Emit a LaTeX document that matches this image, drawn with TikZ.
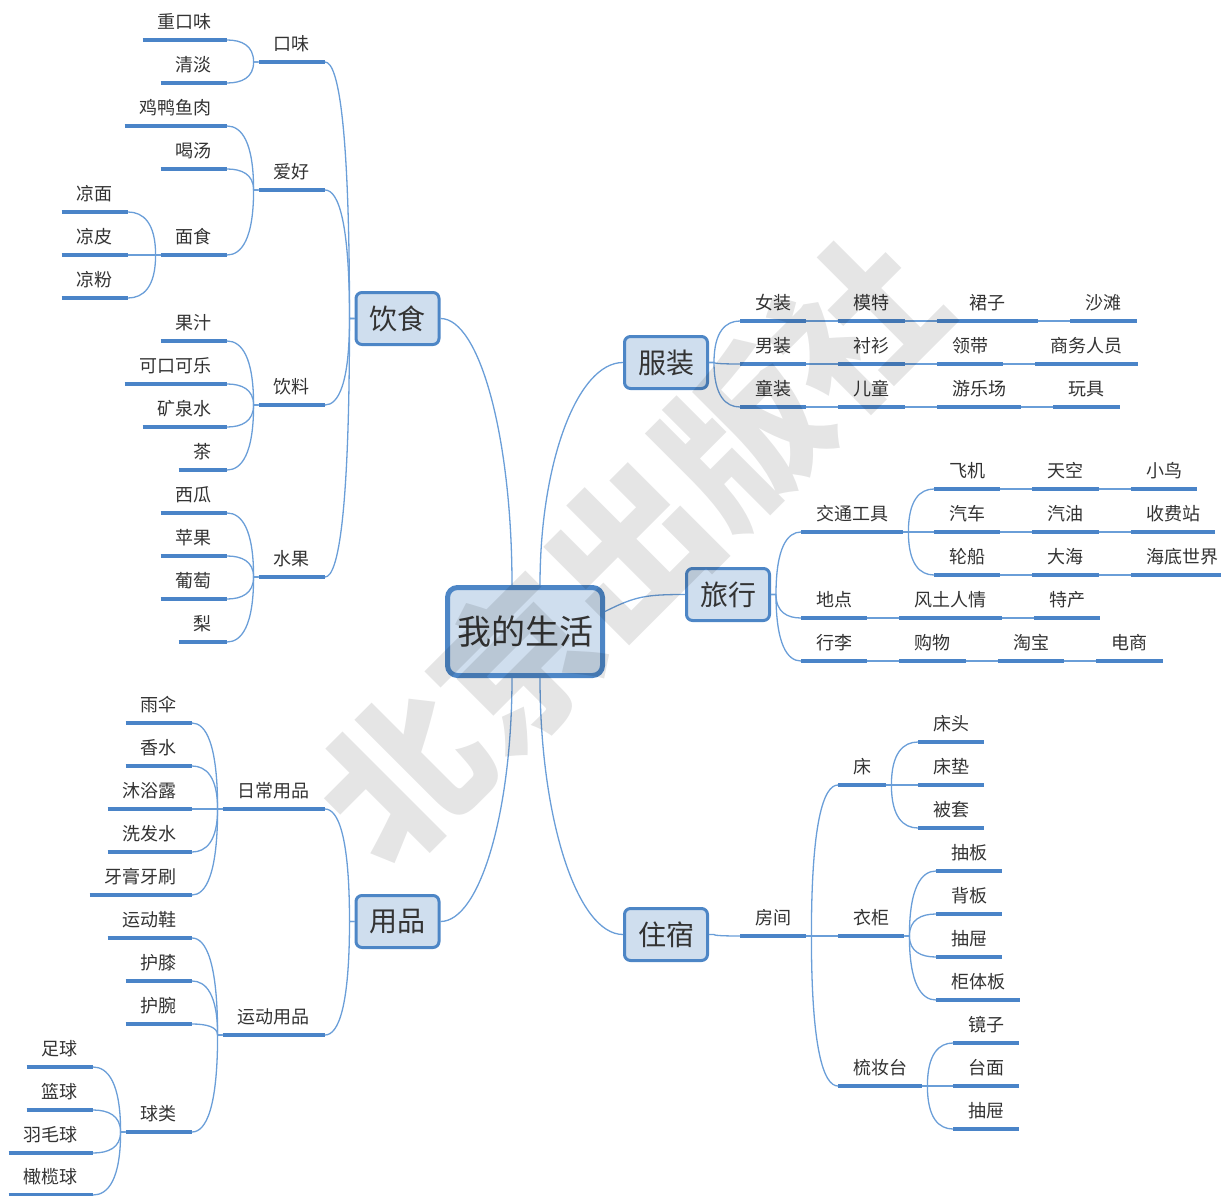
\documentclass[tikz,border=0pt]{standalone}
\usepackage{fontspec}
\setmainfont{Noto Sans CJK SC}
\usetikzlibrary{calc,positioning}

\definecolor{boxfill}{HTML}{CFDEEE}
\definecolor{boxblue}{HTML}{4D86C6}
\definecolor{ulblue}{HTML}{4A84C8}
\definecolor{linkblue}{HTML}{6A9ED8}
\definecolor{txt}{HTML}{333333}

\tikzset{
  root/.style={draw=boxblue, line width=5pt, fill=boxfill, rounded corners=10pt,
    minimum width=155pt, minimum height=88pt, font=\fontsize{34}{40}\selectfont, text=txt},
  topic/.style={draw=boxblue, line width=3pt, fill=boxfill, rounded corners=6pt,
    minimum width=83pt, minimum height=52pt, font=\fontsize{28}{32}\selectfont, text=txt},
  sub/.style={inner xsep=15pt, inner ysep=0pt, text height=14pt, text depth=11.5pt,
    font=\fontsize{18}{20}\selectfont, text=txt},
  subl/.style={sub, anchor=south east},
  subr/.style={sub, anchor=south west},
  ul/.style={ulblue, line width=4pt},
  link/.style={linkblue, line width=1.3pt},
  branch/.style={to path={(\tikztostart) .. controls ($(\tikztostart)!#1!(\tikztostart|-\tikztotarget)$)
    and ($(\tikztotarget)!0.55!(\tikztostart|-\tikztotarget)$) .. (\tikztotarget)}},
  branch/.default=0.75
}

\begin{document}
\begin{tikzpicture}[x=1pt, y=-1pt]
\useasboundingbox (0,0) rectangle (1221,1196);

% centre and main topics
\node[root] (root) at (525,631.5) {我的生活};
\node[topic] (yinshi) at (397.5,318.5) {饮食};
\node[topic] (yongpin) at (397.5,921.5) {用品};
\node[topic] (fuzhuang) at (666,362.5) {服装};
\node[topic] (lvxing) at (728,594.5) {旅行};
\node[topic] (zhusu) at (666,934.5) {住宿};

\coordinate (rtl) at ([xshift=-13pt]root.north);
\coordinate (rtr) at ([xshift=15pt]root.north);
\coordinate (rbl) at ([xshift=-13pt]root.south);
\coordinate (rbr) at ([xshift=15pt]root.south);
\coordinate (rr) at ([yshift=20pt]root.east);
\draw[link] (rtl) to[branch=0.55] (yinshi.east);
\draw[link] (rbl) to[branch=0.55] (yongpin.east);
\draw[link] (rtr) to[branch=0.55] (fuzhuang.west);
\draw[link] (rbr) to[branch=0.55] (zhusu.west);
\draw[link] (rr) .. controls +(30,-15) and +(-40,0) .. (lvxing.west);

% left side, second level
\foreach \p/\n/\t/\y in {yinshi/kouwei/口味/62, yinshi/aihao/爱好/190, yinshi/yinliao/饮料/405,
    yinshi/shuiguo/水果/577, yongpin/richang/日常用品/809, yongpin/yundong/运动用品/1035}
  {\node[subl] (\n) at (325,\y) {\t};
   \draw[ul] (\n.south west) -- (\n.south east);
   \draw[link] (\p.west) -- ++(-5,0) to[branch] (\n.south east);}

% left side, deeper levels
\foreach \p/\n/\t/\x/\y in {kouwei/zhongkouwei/重口味/227/40, kouwei/qingdan/清淡/227/83,
    aihao/jiya/鸡鸭鱼肉/227/126, aihao/hetang/喝汤/227/169, aihao/mianshi/面食/227/255,
    mianshi/liangmian/凉面/128/212, mianshi/liangpi/凉皮/128/255, mianshi/liangfen/凉粉/128/298,
    yinliao/guozhi/果汁/227/341, yinliao/kele/可口可乐/227/384, yinliao/kuangquan/矿泉水/227/427,
    yinliao/cha/茶/227/470, shuiguo/xigua/西瓜/227/513, shuiguo/pingguo/苹果/227/556,
    shuiguo/putao/葡萄/227/599, shuiguo/li/梨/227/642,
    richang/yusan/雨伞/192/723, richang/xiangshui/香水/192/766, richang/muyu/沐浴露/192/809,
    richang/xifa/洗发水/192/852, richang/yagao/牙膏牙刷/192/895,
    yundong/xie/运动鞋/192/938, yundong/huxi/护膝/192/981, yundong/huwan/护腕/192/1024,
    yundong/qiulei/球类/192/1132, qiulei/zuqiu/足球/93/1067, qiulei/lanqiu/篮球/93/1110,
    qiulei/yumao/羽毛球/93/1153, qiulei/ganlan/橄榄球/93/1195}
  {\node[subl] (\n) at (\x,\y) {\t};
   \draw[ul] (\n.south west) -- (\n.south east);
   \draw[link] (\p.south west) -- ++(-5,0) to[branch] (\n.south east);}

% right side, second level
\foreach \p/\n/\t/\x/\y in {fuzhuang/nvzhuang/女装/740/321, fuzhuang/nanzhuang/男装/740/364,
    fuzhuang/tongzhuang/童装/740/407, lvxing/jiaotong/交通工具/801/532,
    lvxing/didian/地点/801/618, lvxing/xingli/行李/801/661, zhusu/fangjian/房间/740/936}
  {\node[subr] (\n) at (\x,\y) {\t};
   \draw[ul] (\n.south west) -- (\n.south east);
   \draw[link] (\p.east) -- ++(5,0) to[branch] (\n.south west);}

% right side, deeper levels
\foreach \p/\n/\t/\x/\y in {jiaotong/feiji/飞机/934/489, jiaotong/qiche/汽车/934/532,
    jiaotong/lunchuan/轮船/934/575, fangjian/chuang/床/838/785, fangjian/yigui/衣柜/838/936,
    fangjian/shuzhuang/梳妆台/838/1086, chuang/chuangtou/床头/918/742,
    chuang/chuangdian/床垫/918/785, chuang/beitao/被套/918/828, yigui/chouban/抽板/936/871,
    yigui/beiban/背板/936/914, yigui/chouti/抽屉/936/957, yigui/guiti/柜体板/936/1000,
    shuzhuang/jingzi/镜子/953/1043, shuzhuang/taimian/台面/953/1086,
    shuzhuang/choutib/抽屉/953/1129}
  {\node[subr] (\n) at (\x,\y) {\t};
   \draw[ul] (\n.south west) -- (\n.south east);
   \draw[link] (\p.south east) -- ++(5,0) to[branch] (\n.south west);}

% chains
\node[subr, right=32pt of nvzhuang] (mote) {模特};
\node[subr, right=32pt of mote, minimum width=101pt] (qunzi) {裙子};
\foreach \a/\n in {nvzhuang/mote, mote/qunzi}
  {\draw[ul] (\n.south west) -- (\n.south east);
   \draw[link] (\a.south east) -- (\n.south west);}
\foreach \a/\n/\t in {qunzi/shatan/沙滩, nanzhuang/chenshan/衬衫, chenshan/lingdai/领带,
    lingdai/shangwu/商务人员, tongzhuang/ertong/儿童, ertong/youle/游乐场, youle/wanju/玩具,
    feiji/tiankong/天空, tiankong/xiaoniao/小鸟, qiche/qiyou/汽油, qiyou/shoufei/收费站,
    lunchuan/dahai/大海, dahai/haidi/海底世界, didian/fengtu/风土人情, fengtu/techan/特产,
    xingli/gouwu/购物, gouwu/taobao/淘宝, taobao/dianshang/电商}
  {\node[subr, right=32pt of \a] (\n) {\t};
   \draw[ul] (\n.south west) -- (\n.south east);
   \draw[link] (\a.south east) -- (\n.south west);}

% watermark
\node[rotate=45, text=black, text opacity=0.1, font=\fontsize{160}{160}\selectfont\bfseries]
  (wm) at (630,550) {北京出版社};
\end{tikzpicture}
\end{document}
